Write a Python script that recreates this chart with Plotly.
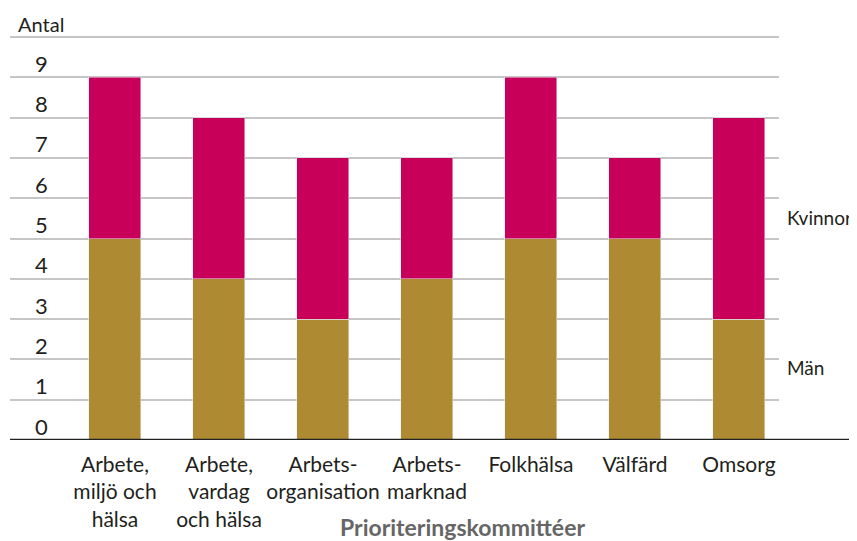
import plotly.graph_objects as go

categories = ["Arbete,<br>miljö och<br>hälsa", "Arbete,<br>vardag<br>och hälsa", "Arbets-<br>organisation",
              "Arbets-<br>marknad", "Folkhälsa", "Välfärd", "Omsorg"]
man = [5, 4, 3, 4, 5, 5, 3]
kvinnor = [4, 4, 4, 3, 4, 2, 5]
y_ticks = list(range(0, 10))

FONT = "Lato"
TEXT = "#231f20"

fig = go.Figure()
fig.add_trace(go.Bar(x=categories, y=man, name="Män", marker_color="#ae8a33", width=0.5))
fig.add_trace(go.Bar(x=categories, y=kvinnor, name="Kvinnor", marker_color="#c8005a", width=0.5))

# page body has an 8px margin, so the figure is sized and offset to compensate
fig.update_layout(
    barmode="stack",
    width=849, height=533,
    margin=dict(l=2, r=78, t=27, b=101),
    plot_bgcolor="white", paper_bgcolor="white",
    showlegend=False,
    font=dict(family=FONT, size=21, color=TEXT),
)
fig.update_xaxes(range=[-1.0096, 6.385], showline=False, ticks="", tickfont=dict(size=21),
                 ticklabelstandoff=10)
fig.update_yaxes(range=[0, 10.05], tickvals=list(range(1, 11)), showticklabels=False,
                 showgrid=True, gridcolor="#c6c6c6", gridwidth=1.5, zeroline=False, showline=False)

# y tick labels sit just above their gridline
for v in y_ticks:
    fig.add_annotation(x=0.0293, xref="paper", y=v, yref="y", text=str(v), showarrow=False,
                       yshift=14, font=dict(size=22, color=TEXT))

fig.add_annotation(x=0.0078, xref="paper", y=1.028, yref="paper", text="Antal", showarrow=False,
                   xanchor="left", yanchor="middle", font=dict(size=20, color=TEXT))
fig.add_annotation(x=1.0078, xref="paper", y=5.53, yref="y", text="Kvinnor", showarrow=False,
                   xanchor="left", font=dict(size=19, color=TEXT))
fig.add_annotation(x=1.0078, xref="paper", y=1.81, yref="y", text="Män", showarrow=False,
                   xanchor="left", font=dict(size=19, color=TEXT))
fig.add_annotation(x=0.588, xref="paper", y=-0.2148, yref="paper", text="<b>Prioriteringskommittéer</b>",
                   showarrow=False, yanchor="middle", font=dict(size=23, color="#666666"))

# baseline extends past the plot to the right edge
fig.add_shape(type="line", xref="paper", x0=0, x1=1.1014, yref="y", y0=0, y1=0,
              line=dict(color="#222222", width=2.5))

fig.write_html("out.html")
